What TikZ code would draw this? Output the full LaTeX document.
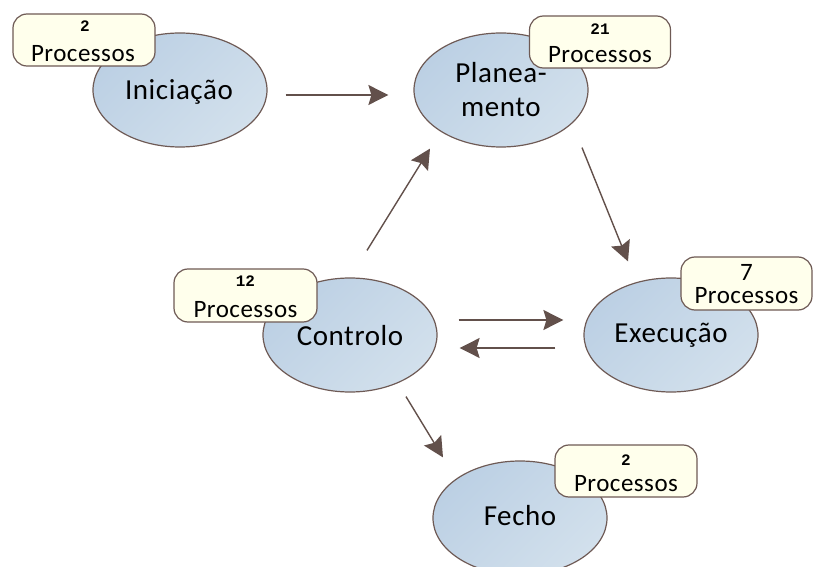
\documentclass[tikz,border=0pt]{standalone}
\usepackage{fontspec}
\setmainfont{Carlito}[LetterSpace=2]
\newfontfamily\numfont{Liberation Mono}
\usetikzlibrary{arrows.meta,shapes.geometric}

\definecolor{edgebrown}{HTML}{6E5A55}
\definecolor{arrowbrown}{HTML}{62504B}
\definecolor{phaseA}{HTML}{BCD0E4}
\definecolor{phaseB}{HTML}{D2E0EC}
\definecolor{tagfill}{HTML}{FFFFEC}

\tikzset{
  phase/.style={ellipse, draw=edgebrown, line width=1.2pt,
    minimum width=174pt, minimum height=114pt, inner sep=0pt,
    left color=phaseA, right color=phaseB, shading angle=45},
  phasetext/.style={anchor=base, inner sep=0pt, font=\fontsize{29}{32}\selectfont},
  tag/.style={draw=edgebrown, line width=1.2pt, fill=tagfill,
    rounded corners=14pt, minimum width=142pt, minimum height=52pt, inner sep=0pt},
  tagnum/.style={anchor=base, inner sep=0pt, font=\numfont\bfseries\fontsize{16}{18}\selectfont},
  tagtext/.style={anchor=base, inner sep=0pt, font=\fontsize{25}{28}\selectfont},
  arr/.style={draw=arrowbrown, line width=1.4pt,
    -{Stealth[length=20pt,width=20pt,inset=3pt]}}
}

\begin{document}
\begin{tikzpicture}[x=1pt,y=-1pt]
\useasboundingbox (0,0) rectangle (815,567);

% process groups
\node[phase] (ini)   at (180,90)  {};
\node[phase] (plan)  at (501,90)  {};
\node[phase] (ctrl)  at (350,335) {};
\node[phase] (exec)  at (671,335) {};
\node[phase] (fecho) at (520,518) {};

\node[phasetext] (ini-t)   at ([xshift=-1pt,yshift=-10pt]ini.center)  {Iniciação};
\node[phasetext] (plan-t1) at ([yshift=7pt]plan.center)   {Planea-};
\node[phasetext] (plan-t2) at ([yshift=-27pt]plan.center) {mento};
\node[phasetext] (ctrl-t)  at ([yshift=-10pt]ctrl.center) {Controlo};
\node[phasetext] (exec-t)  at ([yshift=-7pt]exec.center)  {Execução};
\node[phasetext] (fecho-t) at ([yshift=-7pt]fecho.center) {Fecho};

% process counts
\node[tag] (tini) at (84,40) {};
\node[tagnum]  (tini-n) at ([xshift=1pt,yshift=8pt]tini.center)   {2};
\node[tagtext] (tini-p) at ([xshift=-1pt,yshift=-22pt]tini.center) {Processos};

\node[tag, minimum width=141pt] (tplan) at (600,42) {};
\node[tagnum]  (tplan-n) at ([yshift=7pt]tplan.center)   {21};
\node[tagtext] (tplan-p) at ([yshift=-21pt]tplan.center) {Processos};

\node[tag, minimum width=143pt, minimum height=53pt] (tctrl) at (245.5,295.5) {};
\node[tagnum]  (tctrl-n) at ([yshift=8.5pt]tctrl.center)   {12};
\node[tagtext] (tctrl-p) at ([yshift=-21.5pt]tctrl.center) {Processos};

\node[tag, minimum width=131pt, minimum height=53pt] (texec) at (746.5,283.5) {};
\node[tagtext] (texec-n) at ([yshift=3.5pt]texec.center)   {7};
\node[tagtext] (texec-p) at ([yshift=-19.5pt]texec.center) {Processos};

\node[tag] (tfecho) at (626,471) {};
\node[tagnum]  (tfecho-n) at ([yshift=6pt]tfecho.center)   {2};
\node[tagtext] (tfecho-p) at ([yshift=-20pt]tfecho.center) {Processos};

% flow between groups
\draw[arr] ([xshift=18pt,yshift=-5pt]ini.east) -- ([xshift=-25pt,yshift=-5pt]plan.west);
\draw[arr] ([xshift=17pt,yshift=27pt]ctrl.north) -- ([xshift=-71pt,yshift=-1pt]plan.south);
\draw[arr] ([xshift=81pt]plan.south) -- ([xshift=-43pt,yshift=16pt]exec.north);
\draw[arr] ([xshift=21pt,yshift=15pt]ctrl.east) -- ([xshift=-20pt,yshift=15pt]exec.west);
\draw[arr] ([xshift=-28pt,yshift=-13pt]exec.west) -- ([xshift=22pt,yshift=-13pt]ctrl.east);
\draw[arr] ([xshift=56pt,yshift=-4pt]ctrl.south) -- ([xshift=-77pt,yshift=3pt]fecho.north);
\end{tikzpicture}
\end{document}
